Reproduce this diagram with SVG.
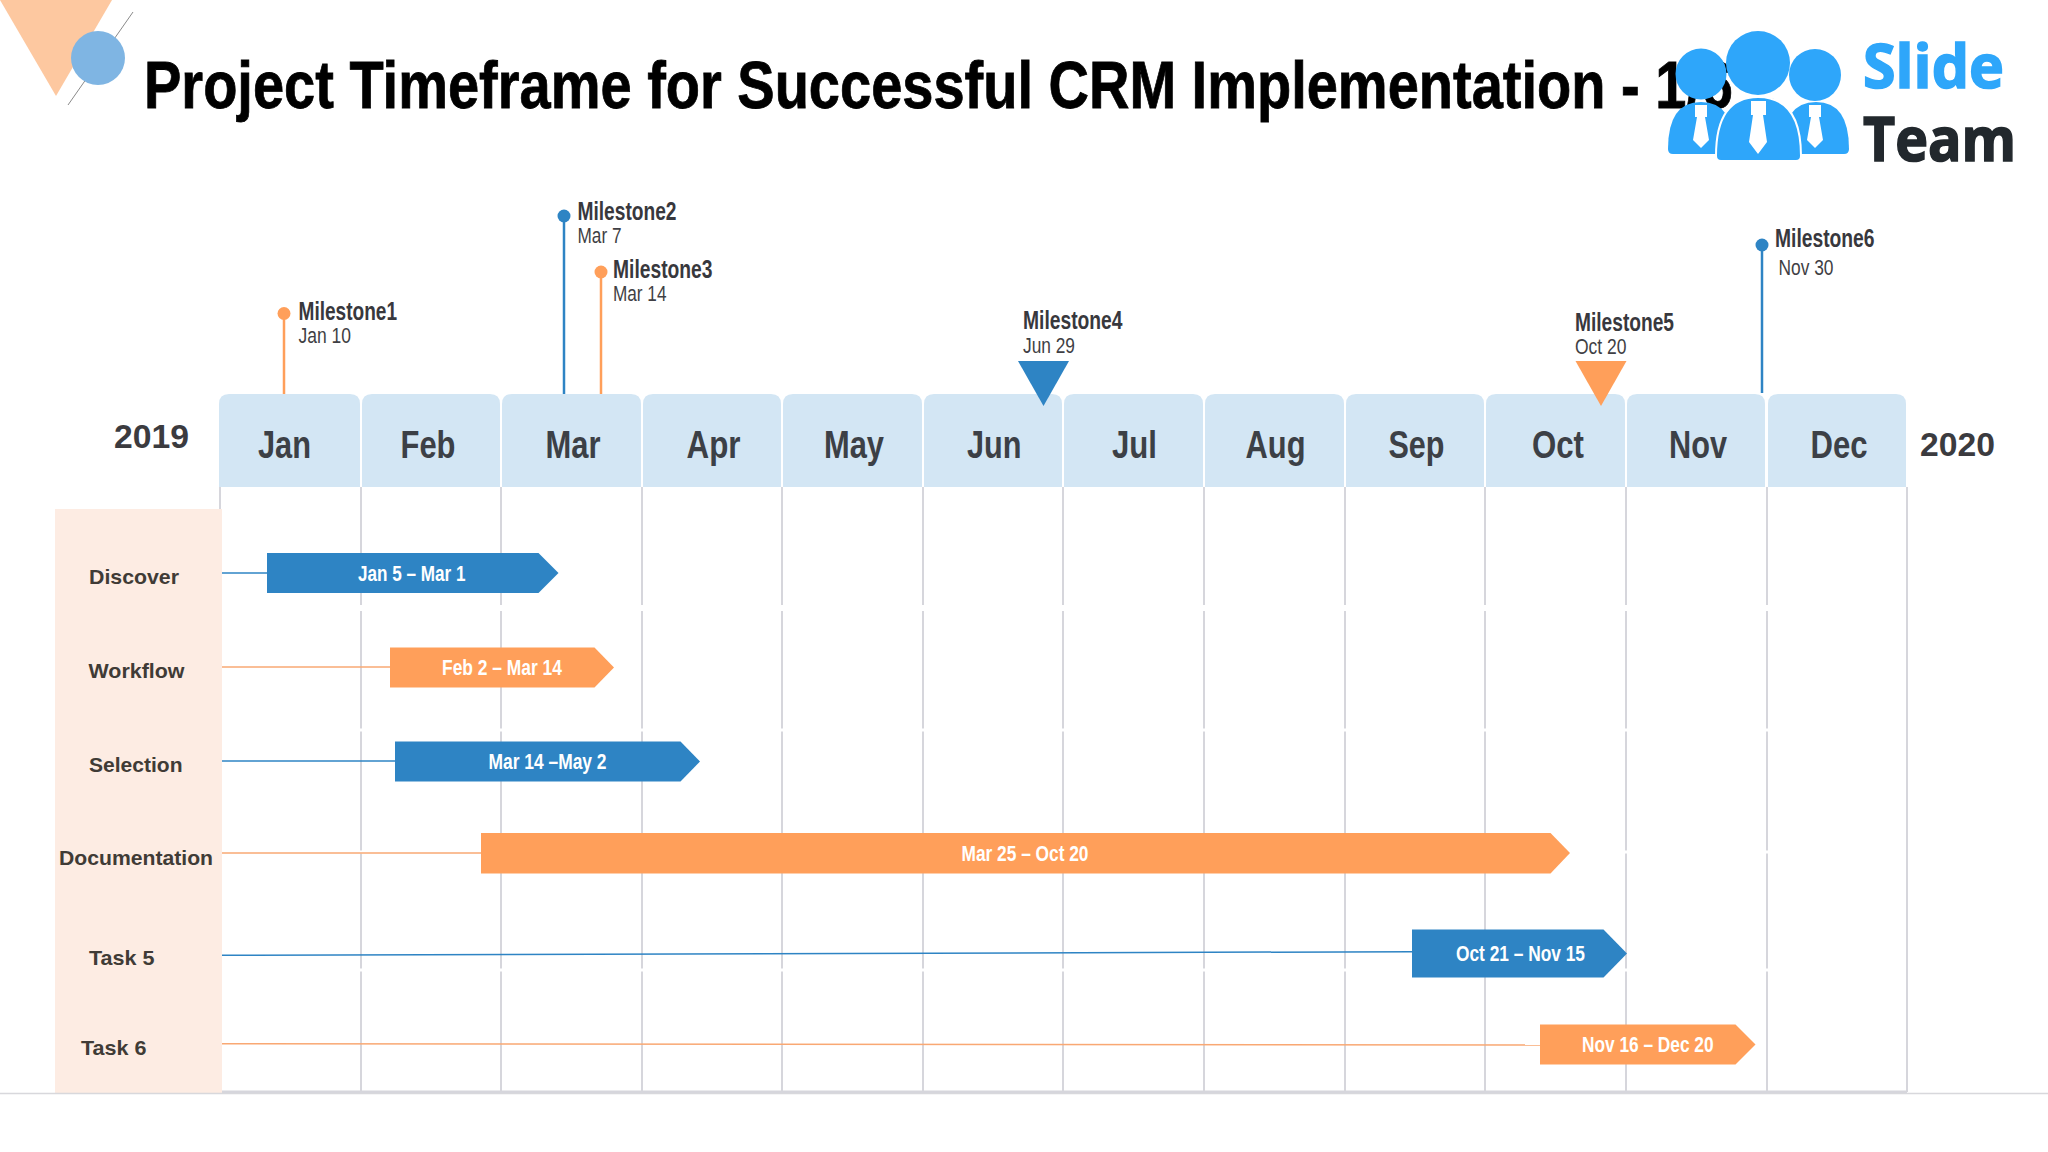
<svg xmlns="http://www.w3.org/2000/svg" width="2048" height="1152" viewBox="0 0 2048 1152">
<style>
text{font-family:"Liberation Sans",Arial,sans-serif}
.hdr{fill:#d3e6f4}
.mon{font-size:39px;font-weight:700;fill:#3c4046}
.yr{font-size:33px;font-weight:700;fill:#3b3b3f}
.lab{font-size:21px;font-weight:700;fill:#403b36}
.bt{font-size:22px;font-weight:700;fill:#fff}
.ms{font-size:25px;font-weight:700;fill:#38383d}
.md{font-size:22px;fill:#3f3f44}
.blue{fill:#2e84c4}
.org{fill:#ff9f5a}
.grid line{stroke:#d6d6dc;stroke-width:2}
.gap line{stroke:#fff;fill:none}
.cb{stroke:#2e84c4;stroke-width:1.5;fill:none}
.co{stroke:#f9a873;stroke-width:1.5;fill:none}
.sb{stroke:#2e84c4;stroke-width:2.5;fill:none}
.so{stroke:#ff9f5a;stroke-width:2.5;fill:none}
.logo{fill:#2ea6fa}
.tie{fill:#fff}
</style>
<rect width="2048" height="1152" fill="#fff"/>

<g id="decoration">
<polygon points="0,0 112,0 56,96" fill="#fdc8a0"/>
<line x1="133" y1="12" x2="68" y2="105" stroke="#8a8a8a" stroke-width="1"/>
<circle cx="98" cy="58" r="27" fill="#7fb5e3"/>
</g>

<text id="title" x="144" y="108" font-size="67" font-weight="700" fill="#000" stroke="#000" stroke-width="0.8" textLength="1589" lengthAdjust="spacingAndGlyphs">Project Timeframe for Successful CRM Implementation - 1/6</text>

<g id="logo">
<path class="logo" d="M1668 149Q1668 102 1701 102Q1734 102 1734 149Q1734 154 1729 154L1673 154Q1668 154 1668 149Z"/>
<path class="logo" d="M1783 149Q1783 102 1816 102Q1849 102 1849 149Q1849 154 1844 154L1788 154Q1783 154 1783 149Z"/>
<path class="logo" stroke="#fff" stroke-width="2" d="M1716 156Q1716 97 1758 97Q1801 97 1801 156Q1801 161 1796 161L1721 161Q1716 161 1716 156Z"/>
<circle class="logo" cx="1701" cy="74" r="25.5"/>
<circle class="logo" cx="1758" cy="63" r="32"/>
<circle class="logo" cx="1815" cy="75" r="26"/>
<polygon class="tie" points="1695,105 1707,105 1707,117 1705,117 1709,140 1701,148 1693,140 1697,117 1695,117"/>
<polygon class="tie" points="1809,105 1821,105 1821,117 1819,117 1823,140 1815,148 1807,140 1811,117 1809,117"/>
<polygon class="tie" points="1751,101 1766,101 1766,115 1763,115 1767,142 1758,154 1749,142 1753,115 1751,115"/>
<text x="1863" y="88" font-size="61" font-weight="700" fill="#2ea6fa" stroke="#2ea6fa" stroke-width="1.6" style="font-family:'Open Sans',sans-serif" textLength="141" lengthAdjust="spacingAndGlyphs">Slide</text>
<text x="1863" y="161" font-size="61" font-weight="700" fill="#22282d" stroke="#22282d" stroke-width="1.6" style="font-family:'Open Sans',sans-serif" textLength="153" lengthAdjust="spacingAndGlyphs">Team</text>
</g>

<g id="panel"><rect x="55" y="509" width="167" height="584" fill="#fdece3"/></g>

<g id="grid" class="grid">
<line x1="220" y1="487" x2="220" y2="509"/>
<line x1="361" y1="487" x2="361" y2="1092"/>
<line x1="501" y1="487" x2="501" y2="1092"/>
<line x1="642" y1="487" x2="642" y2="1092"/>
<line x1="782" y1="487" x2="782" y2="1092"/>
<line x1="923" y1="487" x2="923" y2="1092"/>
<line x1="1063" y1="487" x2="1063" y2="1092"/>
<line x1="1204" y1="487" x2="1204" y2="1092"/>
<line x1="1345" y1="487" x2="1345" y2="1092"/>
<line x1="1485" y1="487" x2="1485" y2="1092"/>
<line x1="1626" y1="487" x2="1626" y2="1092"/>
<line x1="1767" y1="487" x2="1767" y2="1092"/>
<line x1="1907" y1="487" x2="1907" y2="1092"/>
</g>
<g id="gridgaps" class="gap">
<line x1="224" y1="608" x2="1905" y2="608" stroke-width="6"/>
<line x1="224" y1="730" x2="1905" y2="730" stroke-width="3"/>
<line x1="224" y1="852" x2="1905" y2="852" stroke-width="3"/>
<line x1="224" y1="970" x2="1905" y2="970" stroke-width="3"/>
</g>
<line id="baseline" x1="222" y1="1092" x2="1907" y2="1092" stroke="#d6d6dc" stroke-width="3"/>
<line id="floor" x1="0" y1="1093.5" x2="2048" y2="1093.5" stroke="#d8d8dc" stroke-width="1.5"/>

<g id="connectors">
<line class="cb" x1="222" y1="573" x2="267" y2="573"/>
<line class="co" x1="222" y1="667" x2="390" y2="667"/>
<line class="cb" x1="222" y1="761" x2="395" y2="761"/>
<line class="co" x1="222" y1="853" x2="481" y2="853"/>
<line class="cb" x1="222" y1="955.3" x2="1412" y2="951.7"/>
<line class="co" x1="222" y1="1043.7" x2="1540" y2="1045"/>
<line class="so" x1="284" y1="313" x2="284" y2="394"/>
<line class="sb" x1="564" y1="216" x2="564" y2="394"/>
<line class="so" x1="601" y1="272" x2="601" y2="394"/>
<line class="sb" x1="1762" y1="245" x2="1762" y2="393"/>
</g>

<g id="month-jan"><path class="hdr" d="M219 487V404Q219 394 229 394H350Q360 394 360 404V487Z"/><text class="mon" x="258" y="457.5" textLength="53" lengthAdjust="spacingAndGlyphs">Jan</text></g>
<g id="month-feb"><path class="hdr" d="M362 487V404Q362 394 372 394H490Q500 394 500 404V487Z"/><text class="mon" x="400.5" y="457.5" textLength="55" lengthAdjust="spacingAndGlyphs">Feb</text></g>
<g id="month-mar"><path class="hdr" d="M502 487V404Q502 394 512 394H631Q641 394 641 404V487Z"/><text class="mon" x="545.5" y="457.5" textLength="55" lengthAdjust="spacingAndGlyphs">Mar</text></g>
<g id="month-apr"><path class="hdr" d="M643 487V404Q643 394 653 394H771Q781 394 781 404V487Z"/><text class="mon" x="686.5" y="457.5" textLength="54" lengthAdjust="spacingAndGlyphs">Apr</text></g>
<g id="month-may"><path class="hdr" d="M783 487V404Q783 394 793 394H912Q922 394 922 404V487Z"/><text class="mon" x="824" y="457.5" textLength="60" lengthAdjust="spacingAndGlyphs">May</text></g>
<g id="month-jun"><path class="hdr" d="M924 487V404Q924 394 934 394H1052Q1062 394 1062 404V487Z"/><text class="mon" x="967" y="457.5" textLength="54.500" lengthAdjust="spacingAndGlyphs">Jun</text></g>
<g id="month-jul"><path class="hdr" d="M1064 487V404Q1064 394 1074 394H1193Q1203 394 1203 404V487Z"/><text class="mon" x="1112" y="457.5" textLength="45" lengthAdjust="spacingAndGlyphs">Jul</text></g>
<g id="month-aug"><path class="hdr" d="M1205 487V404Q1205 394 1215 394H1334Q1344 394 1344 404V487Z"/><text class="mon" x="1245.5" y="457.5" textLength="60" lengthAdjust="spacingAndGlyphs">Aug</text></g>
<g id="month-sep"><path class="hdr" d="M1346 487V404Q1346 394 1356 394H1474Q1484 394 1484 404V487Z"/><text class="mon" x="1388.5" y="457.5" textLength="56" lengthAdjust="spacingAndGlyphs">Sep</text></g>
<g id="month-oct"><path class="hdr" d="M1486 487V404Q1486 394 1496 394H1615Q1625 394 1625 404V487Z"/><text class="mon" x="1532" y="457.5" textLength="52" lengthAdjust="spacingAndGlyphs">Oct</text></g>
<g id="month-nov"><path class="hdr" d="M1627 487V404Q1627 394 1637 394H1755Q1765 394 1765 404V487Z"/><text class="mon" x="1669" y="457.5" textLength="58" lengthAdjust="spacingAndGlyphs">Nov</text></g>
<g id="month-dec"><path class="hdr" d="M1768 487V404Q1768 394 1778 394H1896Q1906 394 1906 404V487Z"/><text class="mon" x="1810.5" y="457.5" textLength="57" lengthAdjust="spacingAndGlyphs">Dec</text></g>

<g id="year-2019"><text class="yr" x="114" y="448" textLength="75" lengthAdjust="spacingAndGlyphs">2019</text></g>
<g id="year-2020"><text class="yr" x="1920" y="456" textLength="75" lengthAdjust="spacingAndGlyphs">2020</text></g>

<g id="label-discover"><text class="lab" x="89" y="584" textLength="90" lengthAdjust="spacingAndGlyphs">Discover</text></g>
<g id="label-workflow"><text class="lab" x="88.500" y="678" textLength="96" lengthAdjust="spacingAndGlyphs">Workflow</text></g>
<g id="label-selection"><text class="lab" x="89" y="772" textLength="93.500" lengthAdjust="spacingAndGlyphs">Selection</text></g>
<g id="label-documentation"><text class="lab" x="59" y="864.500" textLength="154" lengthAdjust="spacingAndGlyphs">Documentation</text></g>
<g id="label-task5"><text class="lab" x="89" y="965" textLength="65.500" lengthAdjust="spacingAndGlyphs">Task 5</text></g>
<g id="label-task6"><text class="lab" x="81" y="1055" textLength="65.500" lengthAdjust="spacingAndGlyphs">Task 6</text></g>

<g id="bar-discover"><polygon class="blue" points="267,553 538.500,553 558.500,573 538.500,593 267,593"/><text class="bt" x="358" y="581" textLength="107.500" lengthAdjust="spacingAndGlyphs">Jan 5 – Mar 1</text></g>
<g id="bar-workflow"><polygon class="org" points="390,647.500 594.500,647.500 614,667.500 594.500,687.500 390,687.500"/><text class="bt" x="442" y="675" textLength="120" lengthAdjust="spacingAndGlyphs">Feb 2 – Mar 14</text></g>
<g id="bar-selection"><polygon class="blue" points="395,741.500 680.500,741.500 700,761.500 680.500,781.500 395,781.500"/><text class="bt" x="488.500" y="769" textLength="118" lengthAdjust="spacingAndGlyphs">Mar 14 –May 2</text></g>
<g id="bar-documentation"><polygon class="org" points="481,833 1550.500,833 1570,853 1550.500,873.500 481,873.500"/><text class="bt" x="961.500" y="861" textLength="127" lengthAdjust="spacingAndGlyphs">Mar 25 – Oct 20</text></g>
<g id="bar-task5"><polygon class="blue" points="1412,929.500 1603.500,929.500 1627,953.500 1603.500,977.500 1412,977.500"/><text class="bt" x="1456" y="961" textLength="129" lengthAdjust="spacingAndGlyphs">Oct 21 – Nov 15</text></g>
<g id="bar-task6"><polygon class="org" points="1540,1024.500 1735.500,1024.500 1755.500,1044.500 1735.500,1064.500 1540,1064.500"/><text class="bt" x="1582" y="1052" textLength="131.500" lengthAdjust="spacingAndGlyphs">Nov 16 – Dec 20</text></g>

<g id="milestone1"><circle class="org" cx="284" cy="313.500" r="6.500"/><text class="ms" x="298.500" y="320" textLength="98.500" lengthAdjust="spacingAndGlyphs">Milestone1</text><text class="md" x="298.500" y="343" textLength="52.500" lengthAdjust="spacingAndGlyphs">Jan 10</text></g>
<g id="milestone2"><circle class="blue" cx="564" cy="216" r="6.500"/><text class="ms" x="577.500" y="219.500" textLength="99" lengthAdjust="spacingAndGlyphs">Milestone2</text><text class="md" x="577.500" y="243" textLength="44" lengthAdjust="spacingAndGlyphs">Mar 7</text></g>
<g id="milestone3"><circle class="org" cx="601" cy="272" r="6.500"/><text class="ms" x="613" y="278" textLength="99.500" lengthAdjust="spacingAndGlyphs">Milestone3</text><text class="md" x="613" y="301" textLength="53.500" lengthAdjust="spacingAndGlyphs">Mar 14</text></g>
<g id="milestone4"><polygon class="blue" points="1018,361 1069,361 1043.500,406"/><text class="ms" x="1023" y="329" textLength="99.500" lengthAdjust="spacingAndGlyphs">Milestone4</text><text class="md" x="1023" y="353" textLength="52" lengthAdjust="spacingAndGlyphs">Jun 29</text></g>
<g id="milestone5"><polygon class="org" points="1575.500,361 1626.500,361 1601,406"/><text class="ms" x="1575" y="330.500" textLength="99" lengthAdjust="spacingAndGlyphs">Milestone5</text><text class="md" x="1575" y="354" textLength="51.500" lengthAdjust="spacingAndGlyphs">Oct 20</text></g>
<g id="milestone6"><circle class="blue" cx="1762" cy="245" r="6.500"/><text class="ms" x="1775" y="246.500" textLength="99.500" lengthAdjust="spacingAndGlyphs">Milestone6</text><text class="md" x="1778.500" y="274.500" textLength="55" lengthAdjust="spacingAndGlyphs">Nov 30</text></g>
</svg>
